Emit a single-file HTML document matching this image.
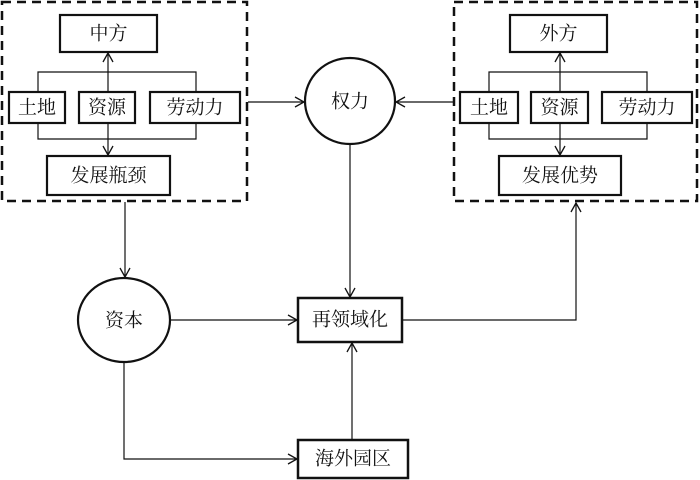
<!DOCTYPE html>
<html><head><meta charset="utf-8"><style>
html,body{margin:0;padding:0;background:#fff;}
svg{display:block;}
text{font-family:"Liberation Serif","Noto Serif CJK SC","Noto Sans CJK SC",serif;font-size:19px;fill:#111;text-anchor:middle;dominant-baseline:central;}
</style></head><body>
<svg width="700" height="480" viewBox="0 0 700 480" xmlns="http://www.w3.org/2000/svg">
<defs>
<marker id="a" markerWidth="12" markerHeight="12" refX="10" refY="6" orient="auto" markerUnits="userSpaceOnUse">
<path d="M1,1 L10,6 L1,11" fill="none" stroke="#111" stroke-width="1.3"/>
</marker>
</defs>
<g fill="none" stroke="#111">
<!-- dashed panels -->
<rect x="2" y="2" width="245" height="199" stroke-width="2.5" stroke-dasharray="9,6"/>
<rect x="454" y="2" width="243" height="199" stroke-width="2.5" stroke-dasharray="9,6"/>
<!-- left panel inner -->
<rect x="60" y="15" width="97" height="37" stroke-width="2.2"/>
<rect x="9" y="92" width="56" height="31" stroke-width="2.2"/>
<rect x="79" y="92" width="56" height="31" stroke-width="2.2"/>
<rect x="150" y="92" width="90" height="31" stroke-width="2.2"/>
<rect x="47" y="156" width="123" height="39" stroke-width="2.2"/>
<polyline points="38,92 38,72 196,72 196,92" stroke-width="1.2"/>
<polyline points="38,123 38,139 196,139 196,123" stroke-width="1.2"/>
<line x1="108" y1="139" x2="108" y2="155" stroke-width="1.2" marker-end="url(#a)"/>
<line x1="108" y1="72" x2="108" y2="53" stroke-width="1.2" marker-end="url(#a)"/>
<line x1="108" y1="72" x2="108" y2="92" stroke-width="1.2"/>
<line x1="108" y1="123" x2="108" y2="139" stroke-width="1.2"/>
<!-- right panel inner -->
<rect x="510" y="15" width="97" height="37" stroke-width="2.2"/>
<rect x="460" y="92" width="58" height="31" stroke-width="2.2"/>
<rect x="531" y="92" width="57" height="31" stroke-width="2.2"/>
<rect x="602" y="92" width="90" height="31" stroke-width="2.2"/>
<rect x="499" y="156" width="122" height="39" stroke-width="2.2"/>
<polyline points="489,92 489,72 647,72 647,92" stroke-width="1.2"/>
<polyline points="489,123 489,139 647,139 647,123" stroke-width="1.2"/>
<line x1="560" y1="139" x2="560" y2="155" stroke-width="1.2" marker-end="url(#a)"/>
<line x1="560" y1="72" x2="560" y2="53" stroke-width="1.2" marker-end="url(#a)"/>
<line x1="560" y1="72" x2="560" y2="92" stroke-width="1.2"/>
<line x1="560" y1="123" x2="560" y2="139" stroke-width="1.2"/>
<!-- circles -->
<ellipse cx="350" cy="101" rx="45" ry="43" stroke-width="2.2"/>
<ellipse cx="124" cy="320" rx="46" ry="42" stroke-width="2.2"/>
<!-- center boxes -->
<rect x="298" y="298" width="104" height="44" stroke-width="2.5"/>
<rect x="298" y="440" width="110" height="38" stroke-width="2.5"/>
<!-- connectors -->
<line x1="248" y1="102" x2="304" y2="102" stroke-width="1.2" marker-end="url(#a)"/>
<line x1="453" y1="102" x2="396" y2="102" stroke-width="1.2" marker-end="url(#a)"/>
<line x1="350" y1="144" x2="350" y2="297" stroke-width="1.2" marker-end="url(#a)"/>
<line x1="125" y1="202" x2="125" y2="277" stroke-width="1.2" marker-end="url(#a)"/>
<line x1="170" y1="320" x2="297" y2="320" stroke-width="1.2" marker-end="url(#a)"/>
<polyline points="402,320 576,320 576,203" stroke-width="1.2" marker-end="url(#a)"/>
<polyline points="124,362 124,459 297,459" stroke-width="1.2" marker-end="url(#a)"/>
<line x1="352" y1="440" x2="352" y2="343" stroke-width="1.2" marker-end="url(#a)"/>
</g>
<text x="108.5" y="34">中方</text>
<text x="37" y="108">土地</text>
<text x="107" y="108">资源</text>
<text x="195" y="108">劳动力</text>
<text x="108.5" y="176">发展瓶颈</text>
<text x="558.5" y="34">外方</text>
<text x="489" y="108">土地</text>
<text x="559.5" y="108">资源</text>
<text x="647" y="108">劳动力</text>
<text x="560" y="176">发展优势</text>
<text x="350" y="102">权力</text>
<text x="124" y="321">资本</text>
<text x="350" y="320">再领域化</text>
<text x="353" y="459">海外园区</text>
</svg>
</body></html>
